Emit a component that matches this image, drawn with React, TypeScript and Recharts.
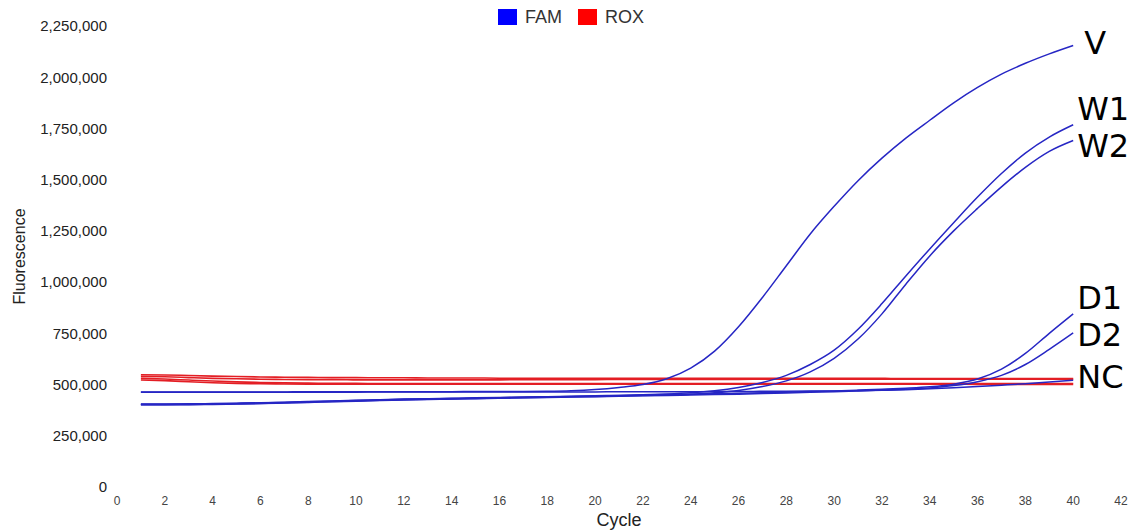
import React from 'react';
import { LineChart, Line, XAxis, YAxis, LabelList } from 'recharts';

// Cycle numbers
const cycles = [1, 2, 3, 4, 5, 6, 7, 8, 9, 10, 11, 12, 13, 14, 15, 16, 17, 18, 19, 20,
  21, 22, 23, 24, 25, 26, 27, 28, 29, 30, 31, 32, 33, 34, 35, 36, 37, 38, 39, 40];

// FAM channel (fluorescence values)
const famV = [464000, 464000, 464000, 464000, 464000, 464000, 464000, 465000, 465000, 465000,
  465000, 465000, 465000, 465000, 466000, 466000, 466000, 467000, 470000, 476000,
  486000, 500000, 528000, 580000, 663000, 782000, 925000, 1080000, 1235000, 1370000,
  1495000, 1605000, 1703000, 1790000, 1875000, 1950000, 2015000, 2068000, 2114000, 2155000];
const famW1 = [404000, 404000, 405000, 406000, 408000, 410000, 413000, 416000, 419000, 422000,
  425000, 428000, 430000, 432000, 434000, 436000, 438000, 440000, 442000, 444000,
  447000, 450000, 454000, 460000, 470000, 486000, 510000, 545000, 598000, 668000,
  770000, 895000, 1030000, 1162000, 1290000, 1415000, 1530000, 1630000, 1708000, 1768000];
const famW2 = [402000, 402000, 403000, 404000, 406000, 408000, 411000, 414000, 417000, 420000,
  423000, 426000, 428000, 430000, 432000, 434000, 436000, 438000, 440000, 442000,
  444000, 446000, 449000, 453000, 460000, 471000, 490000, 518000, 562000, 628000,
  722000, 845000, 990000, 1128000, 1250000, 1360000, 1465000, 1560000, 1638000, 1691000];
const famD1 = [405000, 405000, 406000, 407000, 409000, 411000, 414000, 417000, 420000, 423000,
  426000, 429000, 431000, 433000, 435000, 437000, 439000, 441000, 443000, 445000,
  447000, 449000, 451000, 453000, 455000, 457000, 460000, 463000, 466000, 469000,
  473000, 477000, 482000, 489000, 502000, 527000, 575000, 652000, 750000, 845000];
const famD2 = [401000, 401000, 402000, 403000, 405000, 407000, 410000, 413000, 416000, 419000,
  422000, 425000, 427000, 429000, 431000, 433000, 435000, 437000, 439000, 441000,
  443000, 445000, 447000, 449000, 451000, 453000, 456000, 459000, 462000, 465000,
  469000, 473000, 477000, 483000, 495000, 514000, 545000, 598000, 672000, 752000];
const famNC = [463000, 463000, 463000, 463000, 463000, 463000, 463000, 463000, 463000, 463000,
  464000, 464000, 464000, 464000, 464000, 464000, 464000, 464000, 464000, 464000,
  465000, 465000, 465000, 465000, 466000, 466000, 467000, 467000, 468000, 469000,
  470000, 472000, 475000, 479000, 484000, 490000, 497000, 504000, 512000, 521000];

// ROX channel (passive reference)
const rox1 = [548000, 547000, 544000, 541000, 539000, 537000, 536000, 535000, 534000, 534000,
  533000, 533000, 532000, 532000, 532000, 531000, 531000, 531000, 531000, 531000,
  530000, 530000, 530000, 530000, 530000, 530000, 530000, 530000, 530000, 530000,
  530000, 530000, 529000, 529000, 529000, 529000, 529000, 529000, 529000, 529000];
const rox2 = [540000, 538000, 534000, 530000, 528000, 526000, 525000, 524000, 524000, 523000,
  523000, 523000, 523000, 523000, 523000, 523000, 524000, 524000, 524000, 524000,
  525000, 525000, 525000, 525000, 525000, 525000, 526000, 526000, 526000, 526000,
  526000, 526000, 526000, 526000, 526000, 526000, 526000, 526000, 526000, 526000];
const rox3 = [530000, 527000, 522000, 517000, 513000, 510000, 508000, 507000, 506000, 506000,
  505000, 505000, 505000, 505000, 505000, 505000, 505000, 505000, 505000, 505000,
  505000, 505000, 505000, 505000, 505000, 505000, 505000, 505000, 505000, 505000,
  505000, 505000, 505000, 505000, 505000, 505000, 505000, 505000, 505000, 505000];
const rox4 = [522000, 519000, 514000, 509000, 506000, 504000, 503000, 502000, 502000, 502000,
  502000, 502000, 502000, 502000, 502000, 502000, 502000, 502000, 502000, 502000,
  502000, 502000, 502000, 502000, 502000, 502000, 502000, 502000, 502000, 502000,
  502000, 502000, 502000, 502000, 502000, 501000, 501000, 501000, 501000, 501000];

// Axis ticks
const xTicks = [0, 2, 4, 6, 8, 10, 12, 14, 16, 18, 20, 22, 24, 26, 28, 30, 32, 34, 36, 38, 40, 42];
const yTicks = [0, 250000, 500000, 750000, 1000000, 1250000, 1500000, 1750000, 2000000, 2250000];

// Legend entries
const legendNames = ['FAM', 'ROX'];
const legendColors = ['#0000ff', '#ff0000'];

// Sample end labels
const famKeys = ['V', 'W1', 'W2', 'D1', 'D2', 'NC'];
const famSeries = [famV, famW1, famW2, famD1, famD2, famNC];
const roxKeys = ['R1', 'R2', 'R3', 'R4'];
const roxSeries = [rox1, rox2, rox3, rox4];

const data = cycles.map((c, i) => {
  const row: Record<string, number> = { cycle: c };
  famKeys.forEach((k, j) => { row[k] = famSeries[j][i]; });
  roxKeys.forEach((k, j) => { row[k] = roxSeries[j][i]; });
  return row;
});

// label style offsets (px) for the end-of-curve sample labels
const labelOffsets: Record<string, { dx: number; dy: number }> = {
  V: { dx: 11, dy: 9 },
  W1: { dx: 4, dy: -5 },
  W2: { dx: 4, dy: 16 },
  D1: { dx: 4, dy: -5 },
  D2: { dx: 4, dy: 13 },
  NC: { dx: 4, dy: 8 },
};

const BLUE = '#2626c4';
const RED = '#e31e24';
const lastIndex = cycles.length - 1;

const makeEndLabel = (name: string) => (props: any) => {
  const { x, y, index } = props;
  if (index !== lastIndex) return null;
  const off = labelOffsets[name];
  return (
    <text
      x={Number(x) + off.dx}
      y={Number(y) + off.dy}
      fontFamily="DejaVu Sans"
      fontSize={32}
      fill="#000"
    >
      {name}
    </text>
  );
};

const YTitle = (props: any) => {
  const vb = props.viewBox || {};
  const cx = (vb.x || 0) + 25;
  const cy = (vb.y || 0) + (vb.height || 0) / 2;
  return (
    <text
      x={cx}
      y={cy}
      transform={`rotate(-90 ${cx} ${cy})`}
      textAnchor="middle"
      fontFamily="Liberation Sans, Arial, sans-serif"
      fontSize={16}
      fill="#222"
    >
      Fluorescence
    </text>
  );
};

const XTitle = (props: any) => {
  const vb = props.viewBox || {};
  const cx = (vb.x || 0) + (vb.width || 0) / 2;
  const cy = (vb.y || 0) + (vb.height || 0) - 4;
  return (
    <text
      x={cx}
      y={cy}
      textAnchor="middle"
      fontFamily="Liberation Sans, Arial, sans-serif"
      fontSize={18}
      fill="#222"
    >
      Cycle
    </text>
  );
};

const fmt = (v: number) => v.toLocaleString('en-US');

export default function App() {
  return (
    <div style={{ position: 'absolute', left: 0, top: 0, width: 1141, height: 530, background: '#fff' }}>
      <LineChart
        width={1141}
        height={530}
        data={data}
        margin={{ top: 26, right: 20, bottom: 0, left: 0 }}
      >
        <XAxis
          dataKey="cycle"
          type="number"
          domain={[0, 42]}
          ticks={xTicks}
          interval={0}
          axisLine={false}
          tickLine={false}
          tickMargin={3}
          height={43}
          tick={{ fontSize: 12, fill: '#444', fontFamily: 'Liberation Sans, Arial, sans-serif' }}
          label={<XTitle />}
        />
        <YAxis
          type="number"
          domain={[0, 2250000]}
          ticks={yTicks}
          interval={0}
          axisLine={false}
          tickLine={false}
          tickMargin={4}
          width={117}
          tickFormatter={fmt}
          tick={{ fontSize: 15, fill: '#222', fontFamily: 'Liberation Sans, Arial, sans-serif' }}
          label={<YTitle />}
        />
        {roxKeys.map((k) => (
          <Line
            key={k}
            dataKey={k}
            type="monotone"
            stroke={RED}
            strokeWidth={1.6}
            dot={false}
            activeDot={false}
            isAnimationActive={false}
          />
        ))}
        {famKeys.map((k) => (
          <Line
            key={k}
            dataKey={k}
            type="monotone"
            stroke={BLUE}
            strokeWidth={1.5}
            dot={false}
            activeDot={false}
            isAnimationActive={false}
          >
            <LabelList dataKey={k} content={makeEndLabel(k)} />
          </Line>
        ))}
      </LineChart>
      <div
        style={{
          position: 'absolute',
          left: 498,
          top: 9,
          display: 'flex',
          alignItems: 'center',
          fontFamily: 'Liberation Sans, Arial, sans-serif',
          fontSize: 18,
          color: '#333',
          lineHeight: '16px',
        }}
      >
        {legendNames.map((n, i) => (
          <div key={n} style={{ display: 'flex', alignItems: 'center', marginRight: i === 0 ? 16 : 0 }}>
            <div style={{ width: 19, height: 16, background: legendColors[i], marginRight: 8 }} />
            <span>{n}</span>
          </div>
        ))}
      </div>
    </div>
  );
}
